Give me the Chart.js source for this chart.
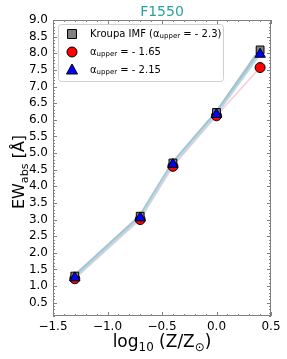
<!DOCTYPE html>
<html>
<head>
<meta charset="utf-8">
<script src="https://cdn.jsdelivr.net/npm/chart.js@4"></script>
<style>
  html, body { margin: 0; padding: 0; background: #fff; }
  #wrap { width: 287px; height: 359px; }
</style>
</head>
<body>
<div id="wrap"><canvas id="chart" width="287" height="359"></canvas></div>
<script>
const metallicity = [-1.3, -0.7, -0.4, 0.0, 0.4];
const ewKroupa = [1.3, 3.1, 4.7, 6.22, 8.1];
const ewSteep = [1.22, 3.0, 4.6, 6.12, 7.57];
const ewMid = [1.25, 3.05, 4.66, 6.16, 7.97];
const yTicks = [0.5, 1.0, 1.5, 2.0, 2.5, 3.0, 3.5, 4.0, 4.5, 5.0, 5.5, 6.0, 6.5, 7.0, 7.5, 8.0, 8.5, 9.0];
const xTicks = [-1.5, -1.0, -0.5, 0.0, 0.5];

const FONT = '"DejaVu Sans", sans-serif';

const toPoints = (ys) => metallicity.map((x, i) => ({x, y: ys[i]}));
const fmt = (v) => (v < 0 ? '\u2212' : '') + Math.abs(v).toFixed(1);

// draws text made of parts, some of them subscript
function drawRich(ctx, parts, x, y, size, align) {
  const widths = parts.map((p) => {
    ctx.font = (p.sub ? size * 0.7 : size) + 'px ' + FONT;
    return ctx.measureText(p.t).width;
  });
  const total = widths.reduce((a, b) => a + b, 0);
  let cx = align === 'center' ? x - total / 2 : x;
  parts.forEach((p, i) => {
    ctx.font = (p.sub ? size * 0.7 : size) + 'px ' + FONT;
    ctx.fillText(p.t, cx, p.sub ? y + size * 0.25 : y);
    cx += widths[i];
  });
}

function drawMarker(ctx, kind, x, y, fill) {
  ctx.save();
  ctx.fillStyle = fill;
  ctx.strokeStyle = '#000';
  ctx.lineWidth = 1;
  ctx.beginPath();
  if (kind === 'rect') {
    ctx.rect(x - 4.5, y - 4.5, 9, 9);
  } else if (kind === 'circle') {
    ctx.arc(x, y, 5, 0, Math.PI * 2);
  } else {
    ctx.moveTo(x, y - 6);
    ctx.lineTo(x + 5.5, y + 4);
    ctx.lineTo(x - 5.5, y + 4);
    ctx.closePath();
  }
  ctx.fill();
  ctx.stroke();
  ctx.restore();
}

const framePlugin = {
  id: 'frame',
  afterDraw(chart) {
    const {ctx, chartArea: a, scales: {x, y}} = chart;
    ctx.save();
    ctx.strokeStyle = '#808080';
    ctx.lineWidth = 1;
    ctx.strokeRect(a.left + 0.5, a.top + 0.5, a.right - a.left - 1, a.bottom - a.top - 1);

    ctx.beginPath();
    for (let i = -15; i <= 5; i++) {
      const px = Math.round(x.getPixelForValue(i / 10)) + 0.5;
      const len = i % 5 === 0 ? 4 : 2;
      ctx.moveTo(px, a.bottom); ctx.lineTo(px, a.bottom - len);
      ctx.moveTo(px, a.top); ctx.lineTo(px, a.top + len);
    }
    for (let i = 1; i <= 90; i++) {
      const py = Math.round(y.getPixelForValue(i / 10)) + 0.5;
      const len = i % 5 === 0 ? 4 : 2;
      ctx.moveTo(a.left, py); ctx.lineTo(a.left + len, py);
      ctx.moveTo(a.right, py); ctx.lineTo(a.right - len, py);
    }
    ctx.stroke();

    // title
    ctx.fillStyle = '#26a3a0';
    ctx.font = '14px ' + FONT;
    ctx.textAlign = 'center';
    ctx.textBaseline = 'alphabetic';
    ctx.fillText('F1550', (a.left + a.right) / 2, 16);

    // axis titles
    ctx.fillStyle = '#000';
    ctx.textAlign = 'left';
    drawRich(ctx, [{t: 'log'}, {t: '10', sub: true}, {t: ' (Z/Z'}, {t: '\u2299', sub: true}, {t: ')'}],
      (a.left + a.right) / 2, 347, 17, 'center');
    ctx.save();
    ctx.translate(24, 172);
    ctx.rotate(-Math.PI / 2);
    drawRich(ctx, [{t: 'EW'}, {t: 'abs', sub: true}, {t: ' [\u00c5]'}], 0, 0, 16, 'center');
    ctx.restore();

    // legend
    const bx = 58, by = 24, bw = 165, bh = 57;
    ctx.fillStyle = 'rgba(255,255,255,0.85)';
    ctx.strokeStyle = '#d0d0d0';
    ctx.beginPath();
    ctx.roundRect(bx + 0.5, by + 0.5, bw, bh, 3);
    ctx.fill();
    ctx.stroke();
    const rows = [
      {kind: 'rect', fill: '#808080', parts: [{t: 'Kroupa IMF (\u03b1'}, {t: 'upper', sub: true}, {t: ' = - 2.3)'}]},
      {kind: 'circle', fill: '#ff0000', parts: [{t: '\u03b1'}, {t: 'upper', sub: true}, {t: ' = - 1.65'}]},
      {kind: 'triangle', fill: '#0000ff', parts: [{t: '\u03b1'}, {t: 'upper', sub: true}, {t: ' = - 2.15'}]}
    ];
    rows.forEach((r, i) => {
      const ry = 34 + i * 18;
      drawMarker(ctx, r.kind, 72, ry, r.fill);
      ctx.fillStyle = '#000';
      ctx.textBaseline = 'middle';
      drawRich(ctx, r.parts, 90, ry, 10, 'left');
    });
    ctx.restore();
  }
};

new Chart(document.getElementById('chart'), {
  type: 'scatter',
  data: {
    datasets: [
      {data: toPoints(ewKroupa), showLine: true, borderColor: '#a9c2cc', borderWidth: 3.5, pointRadius: 0, order: 12},
      {data: toPoints(ewSteep), showLine: true, borderColor: '#ffc8d2', borderWidth: 1.5, pointRadius: 0, order: 11},
      {data: toPoints(ewMid), showLine: true, borderColor: '#b4dce8', borderWidth: 2, pointRadius: 0, order: 10},
      {data: toPoints(ewSteep), pointStyle: 'circle', pointRadius: 5, backgroundColor: '#ff0000', borderColor: '#000', borderWidth: 1, order: 3},
      {data: toPoints(ewKroupa), pointStyle: 'rect', pointRadius: 5.5, backgroundColor: '#808080', borderColor: '#000', borderWidth: 1, order: 2},
      {data: toPoints(ewMid), pointStyle: 'triangle', pointRadius: 6, backgroundColor: '#0000ff', borderColor: '#000', borderWidth: 1, order: 1}
    ]
  },
  options: {
    responsive: false,
    animation: false,
    layout: {padding: {top: 20, right: 16, left: 0, bottom: 0}},
    plugins: {legend: {display: false}, tooltip: {enabled: false}},
    scales: {
      x: {
        type: 'linear', min: -1.5, max: 0.5,
        grid: {display: false, drawTicks: false, tickLength: 0}, border: {display: false},
        afterBuildTicks: (s) => { s.ticks = xTicks.map((v) => ({value: v})); },
        afterFit: (s) => { s.height = 43; },
        ticks: {color: '#000', font: {family: FONT, size: 12}, padding: 4, maxRotation: 0, callback: (v) => fmt(v)}
      },
      y: {
        type: 'linear', min: 0.1, max: 9.0,
        grid: {display: false, drawTicks: false, tickLength: 0}, border: {display: false},
        afterBuildTicks: (s) => { s.ticks = yTicks.map((v) => ({value: v})); },
        afterFit: (s) => { s.width = 53; },
        ticks: {color: '#000', font: {family: FONT, size: 12}, padding: 5, callback: (v) => v.toFixed(1)}
      }
    }
  },
  plugins: [framePlugin]
});
</script>
</body>
</html>
